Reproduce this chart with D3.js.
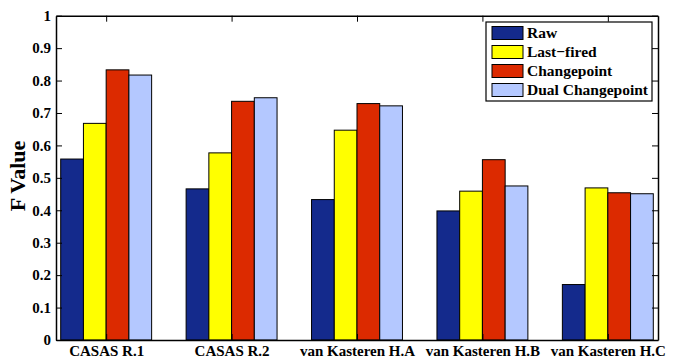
<!DOCTYPE html>
<html>
<head>
<meta charset="utf-8">
<script src="https://cdn.jsdelivr.net/npm/d3@7"></script>
<style>
  body { margin: 0; background: #fff; }
  text { font-family: "Liberation Serif", "Times New Roman", serif; font-weight: bold; }
</style>
</head>
<body>
<script>
// data
const datasets = ["CASAS R.1", "CASAS R.2", "van Kasteren H.A", "van Kasteren H.B", "van Kasteren H.C"];
const methods = ["Raw", "Last\u2212fired", "Changepoint", "Dual Changepoint"];
const raw       = [0.558, 0.466, 0.433, 0.398, 0.171];
const lastFired = [0.668, 0.577, 0.647, 0.459, 0.469];
const changept  = [0.833, 0.736, 0.729, 0.556, 0.454];
const dualChg   = [0.817, 0.747, 0.722, 0.475, 0.451];
const yTicks = [0, 0.1, 0.2, 0.3, 0.4, 0.5, 0.6, 0.7, 0.8, 0.9, 1];
const colors = ["#142a8c", "#ffff00", "#dc2a00", "#b4c8ff"];

const series = [raw, lastFired, changept, dualChg];

const W = 678, H = 360;
const mLeft = 56, mRight = 658, mTop = 15.7, mBottom = 340;

const svg = d3.select("body").append("svg")
  .attr("width", W)
  .attr("height", H);

// x in group units like matlab bar(): groups at 1..5
const x = d3.scaleLinear().domain([0.6, 5.4]).range([mLeft, mRight]);
const y = d3.scaleLinear().domain([0, 1]).range([mBottom, mTop]);

const groupW = 0.725;
const barW = groupW / methods.length;

// bars
series.forEach(function(vals, j) {
  svg.append("g")
    .selectAll("rect")
    .data(vals)
    .enter()
      .append("rect")
      .attr("x", (d, i) => x(i + 1 - groupW / 2 + j * barW))
      .attr("width", x(barW) - x(0))
      .attr("y", d => y(d))
      .attr("height", d => y(0) - y(d))
      .attr("fill", colors[j])
      .attr("stroke", "#000")
      .attr("stroke-width", 1);
});

// axes (matlab box style, ticks inward)
const yAxisL = d3.axisLeft(y).tickValues(yTicks).tickSize(-6).tickSizeOuter(0).tickPadding(5)
  .tickFormat(d => d === 0 || d === 1 ? d3.format("d")(d) : d3.format(".1f")(d));
const yAxisR = d3.axisRight(y).tickValues(yTicks).tickSize(-6).tickSizeOuter(0).tickFormat("");
const xAxisB = d3.axisBottom(x).tickValues(d3.range(1, 6)).tickSize(-6).tickSizeOuter(0).tickPadding(5)
  .tickFormat(d => datasets[d - 1]);
const xAxisT = d3.axisTop(x).tickValues(d3.range(1, 6)).tickSize(-6).tickSizeOuter(0).tickFormat("");

function styleAxis(g) {
  g.select(".domain").attr("stroke", "#000").attr("stroke-width", 1.5);
  g.selectAll(".tick line").attr("stroke", "#000");
  g.selectAll("text").attr("fill", "#000").style("font-family", "Liberation Serif").style("font-weight", "bold");
}

svg.append("g").attr("transform", `translate(${mLeft},0)`).call(yAxisL).call(styleAxis)
  .selectAll("text").style("font-size", "15px");
svg.append("g").attr("transform", `translate(${mRight},0)`).call(yAxisR).call(styleAxis);
svg.append("g").attr("transform", `translate(0,${mBottom})`).call(xAxisB).call(styleAxis)
  .selectAll("text").style("font-size", "15px");
svg.append("g").attr("transform", `translate(0,${mTop})`).call(xAxisT).call(styleAxis);

// y label
svg.append("text")
  .attr("transform", "translate(25,176) rotate(-90)")
  .attr("text-anchor", "middle")
  .style("font-size", "22px")
  .text("F Value");

// legend
const lg = svg.append("g").attr("transform", "translate(486,22)");
lg.append("rect")
  .attr("width", 166).attr("height", 79)
  .attr("fill", "#fff").attr("stroke", "#000").attr("stroke-width", 1.2);
methods.forEach(function(m, j) {
  lg.append("rect")
    .attr("x", 6).attr("y", 4.5 + j * 19)
    .attr("width", 31).attr("height", 13)
    .attr("fill", colors[j]).attr("stroke", "#000");
  lg.append("text")
    .attr("x", 41).attr("y", 16 + j * 19)
    .style("font-size", "15.5px")
    .text(m);
});
</script>
</body>
</html>
